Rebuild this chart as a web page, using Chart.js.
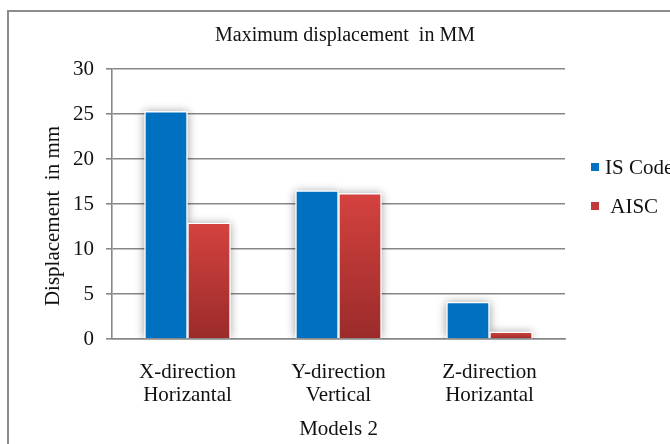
<!DOCTYPE html>
<html><head><meta charset="utf-8">
<script src="https://cdn.jsdelivr.net/npm/chart.js@4.4.0/dist/chart.umd.min.js"></script>
<style>html,body{margin:0;padding:0;background:#fff;}#wrap{width:670px;height:444px;}</style>
</head><body><div id="wrap"><canvas id="c" width="670" height="444"></canvas></div>
<script>
const categories = [["X-direction", "Horizantal"], ["Y-direction", "Vertical"], ["Z-direction", "Horizantal"]];
const isCodeValues = [25.3, 16.5, 4.1];
const aiscValues = [12.9, 16.2, 0.8];
const seriesLabels = ["IS Code", " AISC"];
const yMin = 0, yMax = 30, yStep = 5;
const chartTitle = "Maximum displacement  in MM";
const yTitle = "Displacement  in mm";
const xTitle = "Models 2";

const FONT = "'Liberation Serif', 'Times New Roman', serif";
const GRID = '#878787';
const BLUE = '#0070C0';

function redGradient(ctx) {
  const chart = ctx.chart;
  if (ctx.type !== 'data' || !chart.chartArea) return '#C0393B';
  const y = chart.scales.y;
  const v = ctx.raw;
  const top = y.getPixelForValue(v), bottom = y.getPixelForValue(0);
  if (!isFinite(top) || !isFinite(bottom) || top === bottom) return '#C0393B';
  const g = chart.ctx.createLinearGradient(0, top, 0, bottom);
  g.addColorStop(0, '#D4423F');
  g.addColorStop(1, '#9A2B2A');
  return g;
}

const shadowPlugin = {
  id: 'barShadow',
  beforeDatasetsDraw(chart) {
    const ctx = chart.ctx, a = chart.chartArea;
    ctx.save();
    ctx.beginPath();
    ctx.rect(a.left, a.top - 20, a.right - a.left, a.bottom - a.top + 20);
    ctx.clip();
    ctx.shadowColor = 'rgba(0,0,0,0.38)';
    ctx.shadowBlur = 9;
    ctx.fillStyle = '#fff';
    chart.data.datasets.forEach((d, i) => {
      chart.getDatasetMeta(i).data.forEach(bar => {
        const p = bar.getProps(['x', 'y', 'base', 'width'], true);
        ctx.fillRect(p.x - p.width / 2, p.y, p.width, p.base - p.y);
      });
    });
    ctx.restore();
  }
};

const decorPlugin = {
  id: 'decor',
  afterDraw(chart) {
    const ctx = chart.ctx, a = chart.chartArea;
    ctx.save();
    // outer frame
    ctx.strokeStyle = '#8C8C8C';
    ctx.lineWidth = 2;
    ctx.strokeRect(8, 11, 700, 480);
    ctx.fillStyle = '#111';
    // chart title
    ctx.font = '20px ' + FONT;
    ctx.textAlign = 'center';
    ctx.textBaseline = 'middle';
    ctx.fillText(chartTitle, 345, 36);
    // x axis title
    ctx.font = '21px ' + FONT;
    ctx.fillText(xTitle, (a.left + a.right) / 2, 429);
    // y axis title
    ctx.save();
    ctx.translate(53, 216);
    ctx.rotate(-Math.PI / 2);
    ctx.fillText(yTitle, 0, 0);
    ctx.restore();
    // legend
    ctx.textAlign = 'left';
    const ys = [167, 206];
    chart.data.datasets.forEach((d, i) => {
      ctx.fillStyle = d.legendColor;
      ctx.fillRect(591, ys[i] - 4, 8, 8);
      ctx.fillStyle = '#111';
      ctx.fillText(d.label, 605, ys[i] + 1);
    });
    ctx.restore();
  }
};

new Chart(document.getElementById('c'), {
  type: 'bar',
  data: {
    labels: categories,
    datasets: [
      { label: seriesLabels[0], data: isCodeValues, backgroundColor: BLUE, legendColor: BLUE,
        borderColor: '#ffffff', borderWidth: 1.2 },
      { label: seriesLabels[1], data: aiscValues, backgroundColor: redGradient, legendColor: '#C0393B',
        borderColor: '#ffffff', borderWidth: 1.2 }
    ]
  },
  options: {
    responsive: false,
    animation: false,
    devicePixelRatio: 1,
    layout: { padding: { top: 69, right: 105, left: 0, bottom: 0 } },
    plugins: { legend: { display: false }, title: { display: false }, tooltip: { enabled: false } },
    datasets: { bar: { barPercentage: 1.0, categoryPercentage: 0.57 } },
    scales: {
      x: {
        grid: { display: false, drawTicks: false },
        border: { display: true, color: GRID, width: 1.6 },
        ticks: { color: '#111', padding: 22, font: { family: FONT, size: 21, lineHeight: 1.1 }, maxRotation: 0 },
        afterFit(s) { s.height = 105; }
      },
      y: {
        min: yMin, max: yMax,
        grid: { color: GRID, lineWidth: 1.6, tickLength: 6, drawTicks: true },
        border: { display: true, color: GRID, width: 1.6 },
        ticks: { stepSize: yStep, color: '#111', padding: 12, font: { family: FONT, size: 21 } },
        afterFit(s) { s.width = 112; }
      }
    }
  },
  plugins: [shadowPlugin, decorPlugin]
});
</script></body></html>
